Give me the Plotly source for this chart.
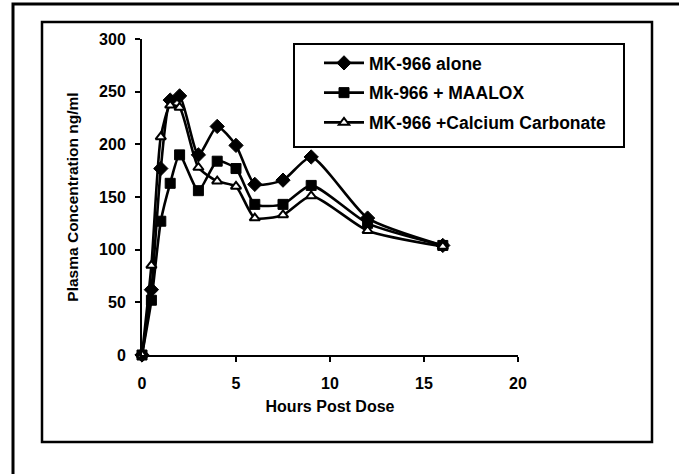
import plotly.graph_objects as go

hours = [0, 0.5, 1, 1.5, 2, 3, 4, 5, 6, 7.5, 9, 12, 16]
mk966_alone = [0, 62, 177, 242, 246, 190, 217, 199, 162, 166, 188, 130, 104]
mk966_maalox = [0, 52, 127, 163, 190, 156, 184, 177, 143, 143, 161, 125, 104]
mk966_calcium = [0, 85, 207, 237, 235, 178, 165, 160, 130, 133, 151, 118, 103]

series_names = ["MK-966 alone", "Mk-966 + MAALOX", "MK-966 +Calcium Carbonate"]
x_ticks = [0, 5, 10, 15, 20]
y_ticks = [0, 50, 100, 150, 200, 250, 300]

FONT = "Liberation Sans"

# plot area pixel geometry
L, R, T, B = 142, 518, 39, 355
W, H = 679, 474


def px(x):
    return (x - L) / (R - L)


def py(y):
    return (B - y) / (B - T)


fig = go.Figure()
styles = [
    dict(symbol="diamond", size=11, color="black", line=dict(color="black", width=1)),
    dict(symbol="square", size=10, color="black", line=dict(color="black", width=1)),
    dict(symbol="triangle-up", size=9, color="white", line=dict(color="black", width=2)),
]
for name, vals, st, g in zip(series_names, [mk966_alone, mk966_maalox, mk966_calcium], styles, ["a", "b", "c"]):
    fig.add_trace(go.Scatter(
        x=hours, y=vals, name=name, mode="lines+markers",
        line=dict(color="black", width=2.6, shape="spline", smoothing=0.6),
        marker=st, cliponaxis=False, legendgroup=g,
    ))

shapes = [
    # outer frame
    dict(type="rect", xref="paper", yref="paper", x0=px(13), x1=px(700), y0=py(4), y1=py(500),
         line=dict(color="black", width=3)),
    # inner frame
    dict(type="rect", xref="paper", yref="paper", x0=px(42), x1=px(652), y0=py(22), y1=py(442),
         line=dict(color="black", width=2.5)),
    # legend box
    dict(type="rect", xref="paper", yref="paper", x0=px(294), x1=px(624), y0=py(44), y1=py(147),
         line=dict(color="black", width=2)),
]

fig.update_layout(
    width=W, height=H,
    margin=dict(l=L, r=W - R, t=T, b=H - B),
    paper_bgcolor="white", plot_bgcolor="white",
    font=dict(family=FONT, size=14, color="black"),
    shapes=shapes,
    showlegend=True,
    legend=dict(
        x=px(319), y=py(45), xanchor="left", yanchor="top",
        borderwidth=0, bgcolor="rgba(0,0,0,0)",
        font=dict(family=FONT, size=17.5, color="black", weight="bold"),
        tracegroupgap=4, itemwidth=40,
    ),
    xaxis=dict(
        range=[0, 20], tickvals=x_ticks, ticktext=[str(v) for v in x_ticks],
        showline=True, linecolor="black", linewidth=2, ticks="outside", ticklen=5,
        tickcolor="black", tickwidth=1.5, showgrid=False, zeroline=False,
        tickfont=dict(family=FONT, size=16, weight="bold"), ticklabelstandoff=8,
        title=dict(text="Hours Post Dose", font=dict(family=FONT, size=16, weight="bold"), standoff=10),
    ),
    yaxis=dict(
        range=[0, 300], tickvals=y_ticks, ticktext=[str(v) for v in y_ticks],
        showline=True, linecolor="black", linewidth=2, ticks="outside", ticklen=5,
        tickcolor="black", tickwidth=1.5, showgrid=False, zeroline=False,
        tickfont=dict(family=FONT, size=16, weight="bold"), ticklabelstandoff=6,
        title=dict(text="Plasma Concentration ng/ml", font=dict(family=FONT, size=15.5, weight="bold"), standoff=17),
    ),
)

fig.write_html("out.html")
